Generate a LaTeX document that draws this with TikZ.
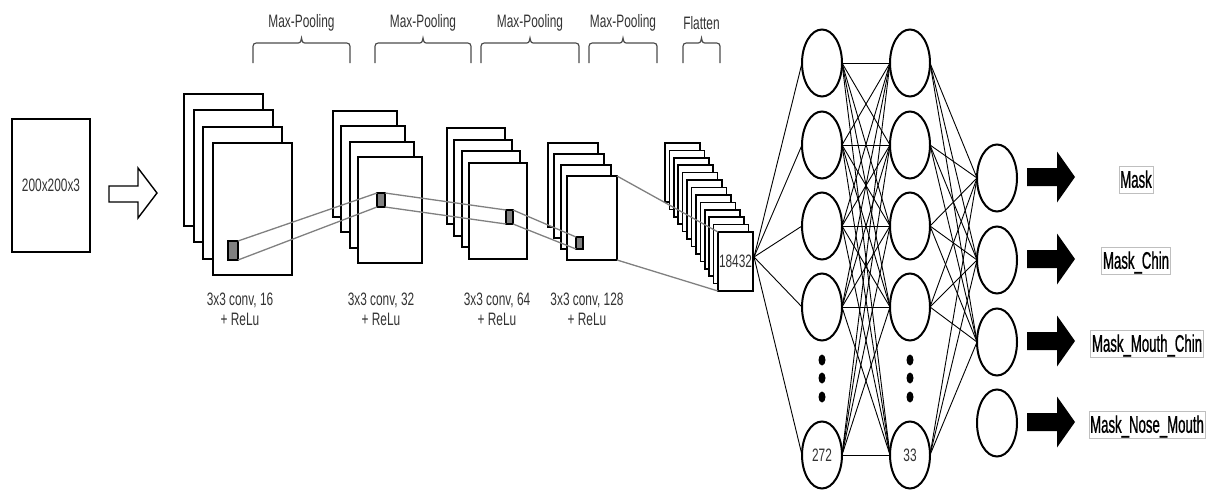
\documentclass[tikz,border=0pt]{standalone}
\usepackage{fontspec}
\setmainfont{Liberation Sans}
\newfontfamily\labfont{Liberation Sans}[FakeStretch=0.66]
\newfontfamily\outfont{Liberation Sans}[FakeStretch=0.55,FakeBold=0.8]
\usetikzlibrary{shapes.geometric}
\newcommand\mybrace[4]{%
  \pgfmathsetmacro\bmid{(#1+#2)/2}%
  \draw[brc] (#1,63) -- (#1,50) .. controls (#1,43) .. ({#1+7},43) -- ({\bmid-6},43) .. controls ({\bmid-1},43) .. (\bmid,38) .. controls ({\bmid+1},43) .. ({\bmid+6},43) -- ({#2-7},43) .. controls (#2,43) .. (#2,50) -- (#2,63);
  \node[lbl] (#4) at (\bmid,23) {#3};
}
\begin{document}
\begin{tikzpicture}[x=1pt,y=-1pt,
  lbl/.style={font=\labfont\fontsize{18}{20}\selectfont, text=black!80, align=center, inner sep=0pt},
  fmap/.style={draw=black, line width=1.8pt, fill=white, rectangle, anchor=north west, inner sep=0pt, outer sep=0pt},
  kern/.style={draw=black, line width=1.3pt, fill=black!50, rectangle, anchor=north west, inner sep=0pt, outer sep=0pt},
  link/.style={draw=black!50, line width=1.3pt},
  neuron/.style={draw=black, line width=2pt, ellipse, minimum width=40pt, minimum height=67pt, inner sep=0pt, outer sep=0pt, fill=white, font=\labfont\fontsize{18}{20}\selectfont, text=black!80},
  fc/.style={draw=black, line width=0.9pt},
  brc/.style={draw=black!70, line width=1.2pt},
  outlbl/.style={draw=black!25, line width=0.6pt, font=\outfont\fontsize{24}{26}\selectfont, text=black, inner xsep=1.2pt, inner ysep=4pt, text height=17pt, text depth=1.5pt},
  hollow/.style={draw=black, line width=1.4pt, fill=white},
  solidarrow/.style={fill=black}
]
\useasboundingbox (0,0) rectangle (1213,490);

% input
\node[fmap, line width=2.2pt, minimum width=78pt, minimum height=133pt] (in) at (12,119) {};
\node[lbl] (intext) at (in.center) {200x200x3};
\draw[hollow] (109,186) -- (138,186) -- (138,168) -- (157,193) -- (138,218) -- (138,202) -- (109,202) -- cycle;

% conv stacks
\foreach \i in {0,...,3}
  \node[fmap, minimum width=79pt, minimum height=132pt] (a\i) at ({184+9.67*\i},{94+16.33*\i}) {};
\foreach \i in {0,...,3}
  \node[fmap, minimum width=64pt, minimum height=106pt] (b\i) at ({333+8.33*\i},{111+15.33*\i}) {};
\foreach \i in {0,...,3}
  \node[fmap, minimum width=58pt, minimum height=96pt] (c\i) at ({447+7.33*\i},{128+11.67*\i}) {};
\foreach \i in {0,...,3}
  \node[fmap, minimum width=50pt, minimum height=84pt] (d\i) at ({548+6.33*\i},{143+11*\i}) {};

% flatten stack
\foreach \i in {0,...,12}
  \node[fmap, line width=1.6pt, minimum width=35pt, minimum height=59pt] (f\i) at ({665+4.42*\i},{143+7.42*\i}) {};
\node[lbl] (ftext) at (f12.center) {18432};

% kernels
\node[kern, minimum width=10pt, minimum height=19pt] (k1) at (228,241) {};
\node[kern, minimum width=8pt, minimum height=14pt] (k2) at (377,193) {};
\node[kern, minimum width=7pt, minimum height=14pt] (k3) at (506,210) {};
\node[kern, minimum width=7pt, minimum height=12pt] (k4) at (576,237) {};

\draw[link] (k1.north east) -- (k2.north west);
\draw[link] (k1.south east) -- (k2.south west);
\draw[link] (k2.north east) -- (k3.north west);
\draw[link] (k2.south east) -- (k3.south west);
\draw[link] (k3.north east) -- (k4.north west);
\draw[link] (k3.south east) -- (k4.south west);
\draw[link] (d3.north east) -- (f12.north west);
\draw[link] (d3.south east) -- (f12.south west);

% labels under conv stacks
\node[lbl] (cl1) at (240,309) {3x3 conv, 16\\+ ReLu};
\node[lbl] (cl2) at (381,309) {3x3 conv, 32\\+ ReLu};
\node[lbl] (cl3) at (497,309) {3x3 conv, 64\\+ ReLu};
\node[lbl] (cl4) at (587,309) {3x3 conv, 128\\+ ReLu};

% braces
\mybrace{253}{350}{Max-Pooling}{mp1}
\mybrace{375}{471}{Max-Pooling}{mp2}
\mybrace{481}{579}{Max-Pooling}{mp3}
\mybrace{589}{657}{Max-Pooling}{mp4}
\mybrace{683}{720}{Flatten}{fl}

% neurons
\node[neuron] (h1) at (822,63) {};
\node[neuron] (h2) at (822,145) {};
\node[neuron] (h3) at (822,226) {};
\node[neuron] (h4) at (822,307) {};
\node[neuron] (h5) at (822,455) {272};
\node[neuron] (g1) at (910,63) {};
\node[neuron] (g2) at (910,145) {};
\node[neuron] (g3) at (910,226) {};
\node[neuron] (g4) at (910,307) {};
\node[neuron] (g5) at (910,455) {33};
\node[neuron] (o1) at (997,178) {};
\node[neuron] (o2) at (997,260) {};
\node[neuron] (o3) at (997,342) {};
\node[neuron] (o4) at (997,423) {};

\foreach \x in {822,910}
  \foreach \y in {360,378,397}
    \fill (\x,\y) ellipse (3.5 and 5.5);

\coordinate (fsrc) at (754,257);
\foreach \j in {1,...,5} \draw[fc] (fsrc) -- (h\j.west);
\foreach \i in {1,...,5} \foreach \j in {1,...,5} \draw[fc] (h\i.east) -- (g\j.west);
\foreach \i in {1,...,5} \foreach \j in {1,2,3} \draw[fc] (g\i.east) -- (o\j.west);

% output arrows
\foreach \y in {177,259,341,422}
  \fill[solidarrow] (1027,{\y-9}) -- (1057,{\y-9}) -- (1057,{\y-25.5}) -- (1075,\y) -- (1057,{\y+25.5}) -- (1057,{\y+9}) -- (1027,{\y+9}) -- cycle;

\node[outlbl] (l1) at (1136,180) {Mask};
\node[outlbl] (l2) at (1136,261) {Mask\_Chin};
\node[outlbl] (l3) at (1147,344) {Mask\_Mouth\_Chin};
\node[outlbl] (l4) at (1147,425) {Mask\_Nose\_Mouth};
\end{tikzpicture}
\end{document}
